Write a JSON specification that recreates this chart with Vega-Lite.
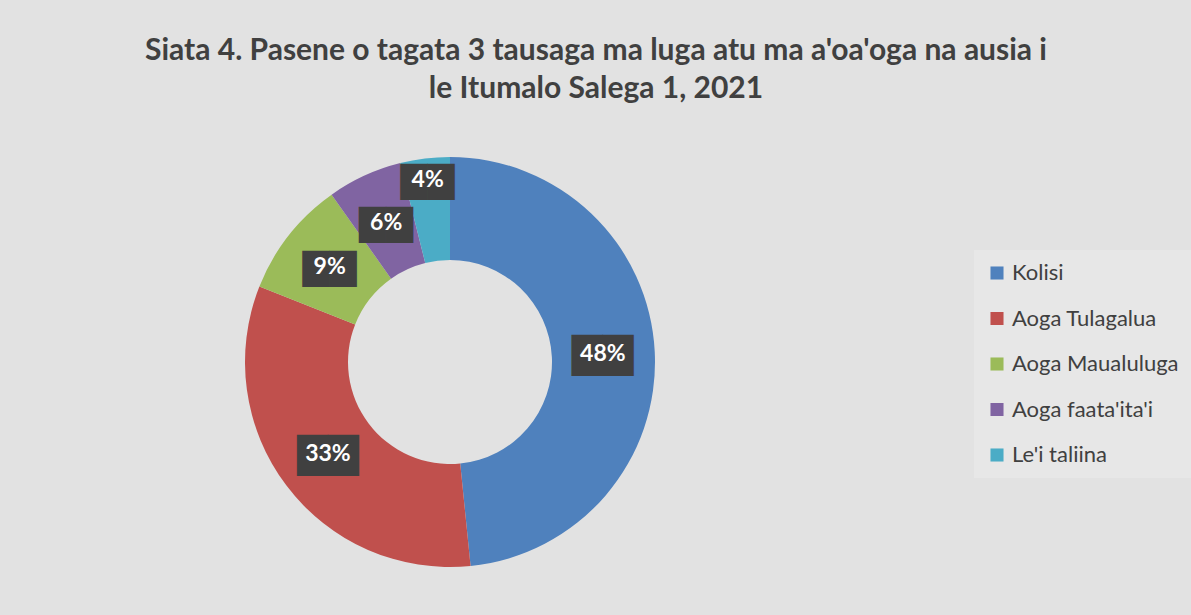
{
  "$schema": "https://vega.github.io/schema/vega-lite/v6.json",
  "width": 410,
  "height": 410,
  "padding": {"left": 145, "top": 36, "right": 5, "bottom": 48},
  "background": "#e2e2e2",
  "config": {"view": {"stroke": null}},
  "title": {
    "text": ["Siata 4. Pasene o tagata 3 tausaga ma luga atu ma a'oa'oga na ausia i", "le Itumalo Salega 1, 2021"],
    "font": "Lato",
    "fontSize": 30,
    "fontWeight": "bold",
    "color": "#404040",
    "lineHeight": 38,
    "frame": "group",
    "anchor": "middle",
    "dx": 146,
    "offset": 53
  },
  "data": {
    "values": [
      {"cat": "Kolisi", "pct": 48.4, "label": "48%"},
      {"cat": "Aoga Tulagalua", "pct": 32.6, "label": "33%"},
      {"cat": "Aoga Maualuluga", "pct": 9.2, "label": "9%"},
      {"cat": "Aoga faata'ita'i", "pct": 5.9, "label": "6%"},
      {"cat": "Le'i taliina", "pct": 3.9, "label": "4%"}
    ]
  },
  "encoding": {
    "theta": {"field": "pct", "type": "quantitative", "stack": true},
    "order": {"field": "pct", "type": "quantitative", "sort": "descending"}
  },
  "layer": [
    {
      "mark": {"type": "arc", "outerRadius": 205, "innerRadius": 102},
      "encoding": {
        "color": {
          "field": "cat",
          "type": "nominal",
          "scale": {
            "domain": ["Kolisi", "Aoga Tulagalua", "Aoga Maualuluga", "Aoga faata'ita'i", "Le'i taliina"],
            "range": ["#4f81bd", "#c0504d", "#9bbb59", "#8064a2", "#4bacc6"]
          },
          "legend": {
            "title": null,
            "orient": "none",
            "legendX": 729,
            "legendY": 93,
            "symbolType": "square",
            "symbolSize": 170,
            "symbolStrokeWidth": 0,
            "labelFont": "Lato",
            "labelFontSize": 22,
            "labelColor": "#404040",
            "rowPadding": 23.5,
            "fillColor": "#e7e7e7",
            "padding": 12,
            "labelLimit": 300
          }
        }
      }
    },
    {
      "mark": {"type": "text", "color": "#404040", "font": "DejaVu Sans", "baseline": "middle", "align": "center", "radius": {"expr": "datum.cat === \"Le'i taliina\" ? 183 : 153"}},
      "encoding": {
        "text": {"value": "▇▇"},
        "size": {"condition": {"test": "datum.pct >= 10", "value": 40}, "value": 35}
      }
    },
    {
      "mark": {"type": "text", "color": "#ffffff", "font": "Lato", "fontWeight": "bold", "fontSize": 23, "baseline": "middle", "align": "center", "radius": {"expr": "datum.cat === \"Le'i taliina\" ? 183 : 153"}},
      "encoding": {
        "text": {"field": "label", "type": "nominal"}
      }
    }
  ]
}
